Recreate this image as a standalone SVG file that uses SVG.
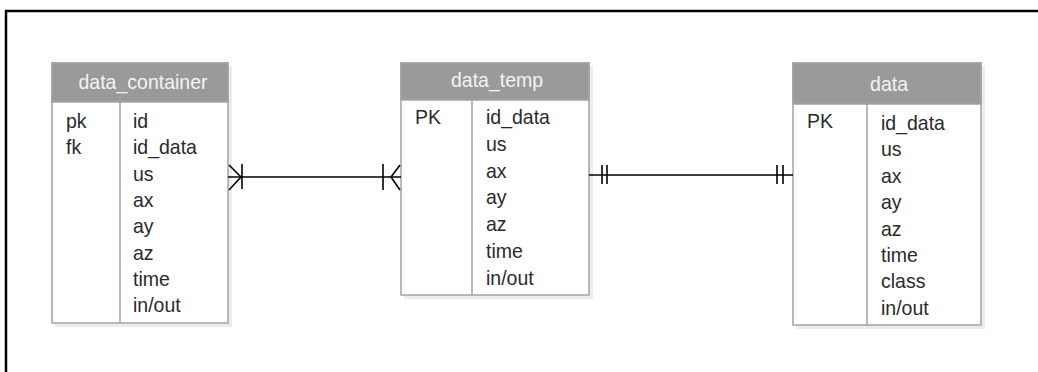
<svg xmlns="http://www.w3.org/2000/svg" width="1038" height="372" viewBox="0 0 1038 372">
<style>
.frame{fill:none;stroke:#000;stroke-width:2.5}
.shadow{fill:#ececec}
.box{fill:#fff;stroke:#a3a3a3;stroke-width:1.5}
.hdr{fill:#9a9a9a;stroke:#a3a3a3;stroke-width:1.5}
.div{stroke:#8a8a8a;stroke-width:1.2}
.title{font-family:"Liberation Sans",Arial,sans-serif;font-size:19.5px;fill:#f4f4f4;text-anchor:middle}
.t{font-family:"Liberation Sans",Arial,sans-serif;font-size:19.5px;fill:#2a2a2a}
.c{stroke:#000;stroke-width:1.6;fill:none}
</style>
<rect class="frame" x="6" y="11" width="1100" height="420"/>
<g id="data_container">
<rect class="shadow" x="55" y="66" width="177" height="261"/>
<rect class="box" x="52" y="63" width="176" height="260"/>
<rect class="hdr" x="52" y="63" width="176" height="39"/>
<line class="div" x1="120" y1="102" x2="120" y2="323"/>
<text class="title" transform="translate(143,89) scale(1,1.08)">data_container</text>
<text class="t" transform="translate(66,128) scale(1,1.08)">pk</text>
<text class="t" transform="translate(66,154.3) scale(1,1.08)">fk</text>
<text class="t" transform="translate(133,128) scale(1,1.08)">id</text>
<text class="t" transform="translate(133,154.3) scale(1,1.08)">id_data</text>
<text class="t" transform="translate(133,180.6) scale(1,1.08)">us</text>
<text class="t" transform="translate(133,206.9) scale(1,1.08)">ax</text>
<text class="t" transform="translate(133,233.2) scale(1,1.08)">ay</text>
<text class="t" transform="translate(133,259.5) scale(1,1.08)">az</text>
<text class="t" transform="translate(133,285.8) scale(1,1.08)">time</text>
<text class="t" transform="translate(133,312.1) scale(1,1.08)">in/out</text>
</g>
<g id="data_temp">
<rect class="shadow" x="404" y="66" width="189" height="233"/>
<rect class="box" x="401" y="63" width="188" height="232"/>
<rect class="hdr" x="401" y="63" width="188" height="37"/>
<line class="div" x1="472" y1="100" x2="472" y2="295"/>
<text class="title" transform="translate(497,87) scale(1,1.08)">data_temp</text>
<text class="t" transform="translate(415,123.5) scale(1,1.08)">PK</text>
<text class="t" transform="translate(486,124) scale(1,1.08)">id_data</text>
<text class="t" transform="translate(486,150.8) scale(1,1.08)">us</text>
<text class="t" transform="translate(486,177.6) scale(1,1.08)">ax</text>
<text class="t" transform="translate(486,204.4) scale(1,1.08)">ay</text>
<text class="t" transform="translate(486,231.2) scale(1,1.08)">az</text>
<text class="t" transform="translate(486,258) scale(1,1.08)">time</text>
<text class="t" transform="translate(486,284.8) scale(1,1.08)">in/out</text>
</g>
<g id="data">
<rect class="shadow" x="796" y="66" width="189" height="263"/>
<rect class="box" x="793" y="63" width="188" height="262"/>
<rect class="hdr" x="793" y="63" width="188" height="41"/>
<line class="div" x1="867" y1="104" x2="867" y2="325"/>
<text class="title" transform="translate(889,91) scale(1,1.08)">data</text>
<text class="t" transform="translate(807,128) scale(1,1.08)">PK</text>
<text class="t" transform="translate(881,130) scale(1,1.08)">id_data</text>
<text class="t" transform="translate(881,156.4) scale(1,1.08)">us</text>
<text class="t" transform="translate(881,182.8) scale(1,1.08)">ax</text>
<text class="t" transform="translate(881,209.2) scale(1,1.08)">ay</text>
<text class="t" transform="translate(881,235.6) scale(1,1.08)">az</text>
<text class="t" transform="translate(881,262) scale(1,1.08)">time</text>
<text class="t" transform="translate(881,288.4) scale(1,1.08)">class</text>
<text class="t" transform="translate(881,314.8) scale(1,1.08)">in/out</text>
</g>
<g id="connectors">
<g id="c1">
<line class="c" x1="228" y1="177" x2="401" y2="177"/>
<polyline class="c" points="229,165 241,177 229,190"/>
<line class="c" x1="242" y1="164" x2="242" y2="189"/>
<polyline class="c" points="400,165 391,177 400,190"/>
<line class="c" x1="383" y1="164" x2="383" y2="190"/>
</g>
<g id="c2">
<line class="c" x1="589" y1="175" x2="793" y2="175"/>
<line class="c" x1="602" y1="165" x2="602" y2="184"/>
<line class="c" x1="607" y1="165" x2="607" y2="184"/>
<line class="c" x1="777" y1="165" x2="777" y2="184"/>
<line class="c" x1="783" y1="165" x2="783" y2="184"/>
</g>
</g>
</svg>
